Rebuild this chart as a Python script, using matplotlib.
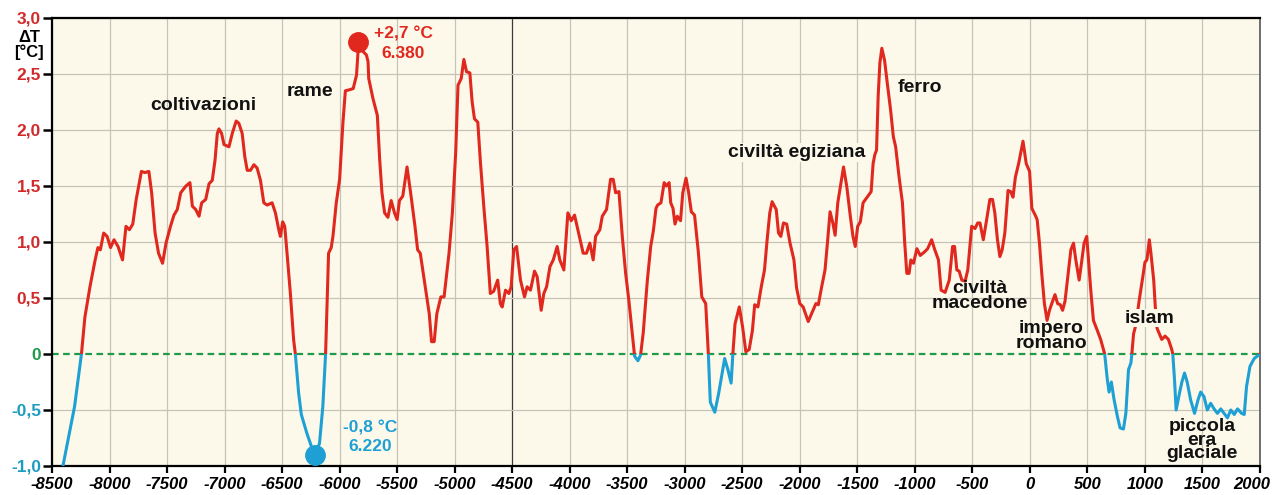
import numpy as np
import matplotlib
matplotlib.use("Agg")
import matplotlib.pyplot as plt
import matplotlib.transforms as mtransforms
from matplotlib.patches import Rectangle

plt.rcParams['font.family'] = ['Liberation Sans', 'DejaVu Sans']
plt.rcParams['font.weight'] = 'bold'

# Temperature anomaly vs. year
years = [
    -8405, -8304, -8244, -8214, -8170, -8125, -8101, -8080, -8051, -8021,
    -7991, -7961, -7926, -7887, -7857, -7827, -7798, -7768, -7723, -7693,
    -7658, -7634, -7604, -7574, -7539, -7509, -7470, -7440, -7411, -7381,
    -7336, -7301, -7280, -7251, -7222, -7199, -7164, -7135, -7107, -7083,
    -7063, -7049, -7026, -7005, -6962, -6933, -6899, -6876, -6847, -6824,
    -6803, -6775, -6745, -6717, -6688, -6659, -6630, -6587, -6558, -6529,
    -6515, -6495, -6477, -6457, -6428, -6400, -6385, -6356, -6333, -6284,
    -6220, -6175, -6146, -6122, -6108, -6096, -6073, -6058, -6029, -6000,
    -5971, -5950, -5912, -5882, -5853, -5835, -5796, -5767, -5753, -5747,
    -5710, -5672, -5652, -5632, -5609, -5580, -5552, -5523, -5500, -5480,
    -5451, -5414, -5379, -5345, -5322, -5299, -5264, -5221, -5201, -5178,
    -5155, -5120, -5092, -5049, -5020, -4991, -4971, -4943, -4920, -4897,
    -4868, -4848, -4828, -4799, -4776, -4747, -4718, -4690, -4661, -4626,
    -4603, -4587, -4558, -4529, -4509, -4486, -4462, -4428, -4393, -4370,
    -4341, -4306, -4283, -4248, -4225, -4201, -4172, -4143, -4109, -4086,
    -4051, -4016, -3987, -3958, -3929, -3883, -3854, -3825, -3796, -3775,
    -3738, -3717, -3680, -3645, -3622, -3601, -3572, -3543, -3514, -3486,
    -3457, -3436, -3407, -3384, -3361, -3325, -3296, -3273, -3250, -3236,
    -3207, -3179, -3159, -3136, -3122, -3102, -3085, -3065, -3037, -3017,
    -2989, -2966, -2943, -2915, -2881, -2852, -2818, -2795, -2778, -2739,
    -2705, -2653, -2625, -2597, -2582, -2563, -2526, -2497, -2469, -2440,
    -2412, -2392, -2364, -2335, -2307, -2284, -2261, -2241, -2205, -2185,
    -2165, -2142, -2114, -2085, -2051, -2028, -2000, -1971, -1927, -1898,
    -1860, -1839, -1810, -1781, -1760, -1737, -1713, -1693, -1670, -1620,
    -1591, -1561, -1538, -1518, -1497, -1474, -1450, -1415, -1380, -1363,
    -1348, -1333, -1319, -1304, -1287, -1263, -1240, -1211, -1187, -1167,
    -1137, -1108, -1088, -1070, -1050, -1035, -1012, -982, -953, -918,
    -889, -854, -830, -795, -772, -737, -701, -672, -655, -635,
    -615, -592, -563, -540, -506, -477, -454, -434, -405, -376,
    -348, -325, -305, -282, -261, -241, -218, -190, -167, -147,
    -126, -98, -60, -32, -3, 17, 46, 63, 83, 103,
    126, 149, 170, 190, 218, 241, 264, 284, 305, 333,
    356, 379, 399, 428, 448, 471, 494, 509, 529, 552,
    586, 615, 650, 673, 688, 708, 732, 761, 784, 813,
    834, 848, 857, 878, 886, 901, 921, 950, 980, 1000,
    1017, 1038, 1052, 1076, 1090, 1105, 1125, 1146, 1175, 1204,
    1233, 1242, 1257, 1271, 1300, 1321, 1344, 1367, 1397, 1431,
    1461, 1484, 1513, 1542, 1571, 1601, 1630, 1659, 1688, 1717,
    1746, 1776, 1805, 1840, 1863, 1883, 1913, 1950, 2000,
]
delta_t = [
    -1.00, -0.47, 0.00, 0.33, 0.60, 0.84, 0.95, 0.93, 1.08, 1.05,
    0.95, 1.02, 0.96, 0.84, 1.14, 1.11, 1.16, 1.38, 1.63, 1.62,
    1.63, 1.44, 1.08, 0.90, 0.81, 0.99, 1.14, 1.24, 1.29, 1.44,
    1.50, 1.53, 1.32, 1.29, 1.23, 1.35, 1.38, 1.52, 1.55, 1.73,
    1.97, 2.01, 1.97, 1.87, 1.85, 1.97, 2.08, 2.06, 1.97, 1.76,
    1.64, 1.64, 1.69, 1.66, 1.55, 1.35, 1.33, 1.35, 1.26, 1.11,
    1.05, 1.18, 1.14, 0.90, 0.54, 0.13, 0.00, -0.35, -0.54, -0.71,
    -0.90, -0.80, -0.47, 0.00, 0.48, 0.90, 0.95, 1.05, 1.35, 1.56,
    2.07, 2.35, 2.36, 2.37, 2.49, 2.78, 2.70, 2.67, 2.61, 2.46,
    2.28, 2.13, 1.74, 1.44, 1.26, 1.22, 1.37, 1.26, 1.20, 1.37,
    1.41, 1.67, 1.41, 1.14, 0.93, 0.90, 0.66, 0.36, 0.11, 0.11,
    0.36, 0.51, 0.51, 0.90, 1.26, 1.80, 2.40, 2.46, 2.63, 2.52,
    2.51, 2.25, 2.10, 2.07, 1.71, 1.32, 0.96, 0.54, 0.56, 0.66,
    0.45, 0.42, 0.57, 0.54, 0.60, 0.93, 0.96, 0.66, 0.51, 0.60,
    0.57, 0.74, 0.69, 0.39, 0.54, 0.60, 0.78, 0.84, 0.96, 0.84,
    0.75, 1.26, 1.19, 1.24, 1.11, 0.90, 0.90, 0.99, 0.84, 1.05,
    1.11, 1.23, 1.29, 1.56, 1.56, 1.44, 1.45, 1.05, 0.72, 0.48,
    0.19, -0.02, -0.06, -0.01, 0.19, 0.66, 0.96, 1.10, 1.30, 1.33,
    1.35, 1.53, 1.50, 1.53, 1.35, 1.30, 1.16, 1.23, 1.19, 1.44,
    1.57, 1.44, 1.27, 1.24, 0.90, 0.51, 0.45, 0.00, -0.43, -0.52,
    -0.35, -0.04, -0.14, -0.26, 0.00, 0.27, 0.42, 0.24, 0.02, 0.04,
    0.21, 0.44, 0.42, 0.60, 0.75, 1.02, 1.26, 1.36, 1.29, 1.08,
    1.05, 1.17, 1.16, 0.99, 0.84, 0.59, 0.45, 0.42, 0.29, 0.36,
    0.45, 0.44, 0.60, 0.75, 0.99, 1.27, 1.17, 1.06, 1.35, 1.67,
    1.49, 1.23, 1.05, 0.96, 1.14, 1.18, 1.35, 1.40, 1.45, 1.70,
    1.78, 1.82, 2.30, 2.60, 2.73, 2.62, 2.42, 2.18, 1.94, 1.85,
    1.58, 1.35, 0.99, 0.72, 0.72, 0.84, 0.81, 0.94, 0.88, 0.91,
    0.94, 1.02, 0.94, 0.84, 0.57, 0.55, 0.66, 0.96, 0.96, 0.75,
    0.74, 0.66, 0.65, 0.75, 1.14, 1.12, 1.17, 1.17, 1.02, 1.20,
    1.38, 1.38, 1.26, 1.02, 0.87, 0.93, 1.08, 1.46, 1.45, 1.40,
    1.58, 1.70, 1.90, 1.70, 1.63, 1.30, 1.24, 1.20, 0.99, 0.72,
    0.45, 0.30, 0.39, 0.45, 0.53, 0.45, 0.44, 0.39, 0.47, 0.72,
    0.93, 0.99, 0.84, 0.66, 0.81, 0.99, 1.05, 0.84, 0.57, 0.30,
    0.21, 0.13, 0.00, -0.23, -0.34, -0.25, -0.41, -0.56, -0.66, -0.67,
    -0.53, -0.29, -0.14, -0.08, 0.00, 0.18, 0.26, 0.48, 0.68, 0.82,
    0.84, 1.02, 0.90, 0.66, 0.42, 0.23, 0.18, 0.13, 0.16, 0.13,
    0.04, 0.00, -0.23, -0.50, -0.35, -0.25, -0.17, -0.25, -0.41, -0.53,
    -0.41, -0.34, -0.38, -0.50, -0.44, -0.49, -0.53, -0.49, -0.53, -0.57,
    -0.50, -0.54, -0.49, -0.53, -0.54, -0.29, -0.11, -0.04, 0.00,
]

x_ticks = list(range(-8500, 2001, 500))
y_ticks = [-1.0, -0.5, 0.0, 0.5, 1.0, 1.5, 2.0, 2.5, 3.0]
y_tick_labels = ['-1,0', '-0,5', '0', '0,5', '1,0', '1,5', '2,0', '2,5', '3,0']

# highlighted extremes
max_year, max_val = -5840, 2.79
min_year, min_val = -6214, -0.90

# period labels: (text, year, value, hides the curve behind it)
labels = [
    ('coltivazioni', -7187, 2.22, False),
    ('rame', -6257, 2.34, False),
    ('ferro', -954, 2.38, False),
    ('civiltà egiziana', -2024, 1.80, True),
    ('civiltà\nmacedone', -433, 0.52, False),
    ('impero\nromano', 185, 0.16, False),
    ('islam', 1036, 0.32, True),
    ('piccola\nera\nglaciale', 1497, -0.77, False),
]

RED = '#e0281f'
BLUE = '#1ea0d4'
GREEN = '#1f9a48'
BG = '#fcf9ea'

fig = plt.figure(figsize=(12.74, 4.95), dpi=100)
ax = fig.add_axes([52 / 1274, 1 - 466 / 495, 1208 / 1274, 448 / 495])
ax.set_facecolor(BG)
ax.set_xlim(-8500, 2000)
ax.set_ylim(-1.0, 3.0)

# grid
ax.set_xticks(x_ticks)
ax.set_yticks(y_ticks)
ax.grid(True, color='#c6c4b8', linewidth=0.9, zorder=0)
ax.set_axisbelow(True)
for tick, gl in zip(x_ticks, ax.get_xgridlines()):
    if tick == -4500:
        gl.set_color('#3a3a3a')
for tick, gl in zip(y_ticks, ax.get_ygridlines()):
    if tick == 0.0:
        gl.set_visible(False)

# zero line
zl, = ax.plot([-8500, 2000], [0, 0], color=GREEN, lw=1.6, zorder=2)
zl.set_dashes([3.0, 2.0])

# curve: red above zero, blue below zero
red_line, = ax.plot(years, delta_t, color=RED, lw=2.2, zorder=3,
                    solid_joinstyle='round', solid_capstyle='round')
red_line.set_clip_path(Rectangle((-8500, 0), 10500, 3.0, transform=ax.transData))
blue_line, = ax.plot(years, delta_t, color=BLUE, lw=2.2, zorder=3,
                     solid_joinstyle='round', solid_capstyle='round')
blue_line.set_clip_path(Rectangle((-8500, -1.0), 10500, 1.0, transform=ax.transData))

# extremes
ax.plot([max_year], [max_val], 'o', color=RED, ms=14, zorder=4, clip_on=False)
ax.plot([min_year], [min_val], 'o', color=BLUE, ms=14, zorder=4, clip_on=False)
ax.text(-5448, 2.77, '+2,7 °C\n6.380', color=RED, fontsize=12.5, fontweight='bold',
        ha='center', va='center', linespacing=1.3, zorder=5)
ax.text(-5736, -0.745, '-0,8 °C\n6.220', color=BLUE, fontsize=12.5, fontweight='bold',
        ha='center', va='center', linespacing=1.3, zorder=5)

for text, yr, val, masked in labels:
    ls = 0.72 if text.count('\n') > 1 else 0.82
    t = ax.text(yr, val, text, fontsize=14, fontweight='bold', color='#111111',
                ha='center', va='center', linespacing=ls, zorder=5)
    if masked:
        t.set_bbox(dict(facecolor=BG, edgecolor='none', pad=0.5))

# axes styling
for side in ['left', 'bottom', 'top']:
    ax.spines[side].set_color('black')
    ax.spines[side].set_linewidth(1.6)
ax.spines['right'].set_color('#555555')
ax.spines['right'].set_linewidth(1.2)

ax.tick_params(axis='y', direction='out', length=6.5, width=1.8, pad=1.5)
ax.tick_params(axis='x', direction='out', length=5, width=1.6, pad=3)
ax.set_yticklabels(y_tick_labels, fontsize=12.5, fontweight='bold')
ax.set_xticklabels([str(t) for t in x_ticks], fontsize=12, fontweight='bold',
                   fontstyle='italic')
for lbl, val in zip(ax.get_yticklabels(), y_ticks):
    if val > 0:
        lbl.set_color('#d22a2a')
    elif val == 0:
        lbl.set_color(GREEN)
    else:
        lbl.set_color('#1e9cc0')

# keep the last x label inside the figure
last = ax.get_xticklabels()[-1]
last.set_transform(last.get_transform() +
                   mtransforms.ScaledTranslation(-8 / 100, 0, fig.dpi_scale_trans))

fig.text(29 / 1274, 1 - 45 / 495, 'ΔT\n[°C]', fontsize=12, fontweight='bold',
         ha='center', va='center', linespacing=0.9)

fig.savefig('out.png', dpi=100, facecolor='white')
